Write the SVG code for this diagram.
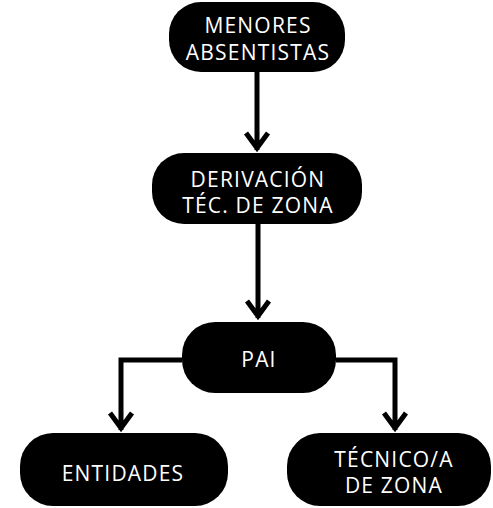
<svg xmlns="http://www.w3.org/2000/svg" width="493" height="508" viewBox="0 0 493 508">
<defs>
<style>
.box{fill:#000}
.t{fill:#fff;font-family:"Open Sans","DejaVu Sans",sans-serif;font-size:21px;font-weight:400;text-anchor:middle;letter-spacing:1.2px}
.c{fill:none;stroke:#000;stroke-width:5}
</style>
</defs>
<rect width="493" height="508" fill="#fff"/>
<g id="connectors">
<path class="c" d="M257,72 V150 M246,133 L257,148 L268,133"/>
<path class="c" d="M258,224 V318 M247,301 L258,316 L269,301"/>
<path class="c" d="M182,360 H121 V430 M110,413 L121,428 L132,413"/>
<path class="c" d="M336,360 H395 V430 M384,413 L395,428 L406,413"/>
</g>
<g id="n1"><rect class="box" x="169" y="2" width="176" height="70" rx="32"/>
<text class="t" x="258" y="33">MENORES</text><text class="t" x="258" y="60">ABSENTISTAS</text></g>
<g id="n2"><rect class="box" x="152" y="153" width="210" height="71" rx="32"/>
<text class="t" x="258" y="187">DERIVACIÓN</text><text class="t" x="258" y="213">TÉC. DE ZONA</text></g>
<g id="n3"><rect class="box" x="182" y="322" width="154" height="71" rx="33"/>
<text class="t" x="259" y="367">PAI</text></g>
<g id="n4"><rect class="box" x="20" y="433" width="208" height="73" rx="33"/>
<text class="t" x="123" y="481">ENTIDADES</text></g>
<g id="n5"><rect class="box" x="287" y="433" width="204" height="73" rx="33"/>
<text class="t" x="394" y="467">TÉCNICO/A</text><text class="t" x="394" y="493">DE ZONA</text></g>
</svg>
